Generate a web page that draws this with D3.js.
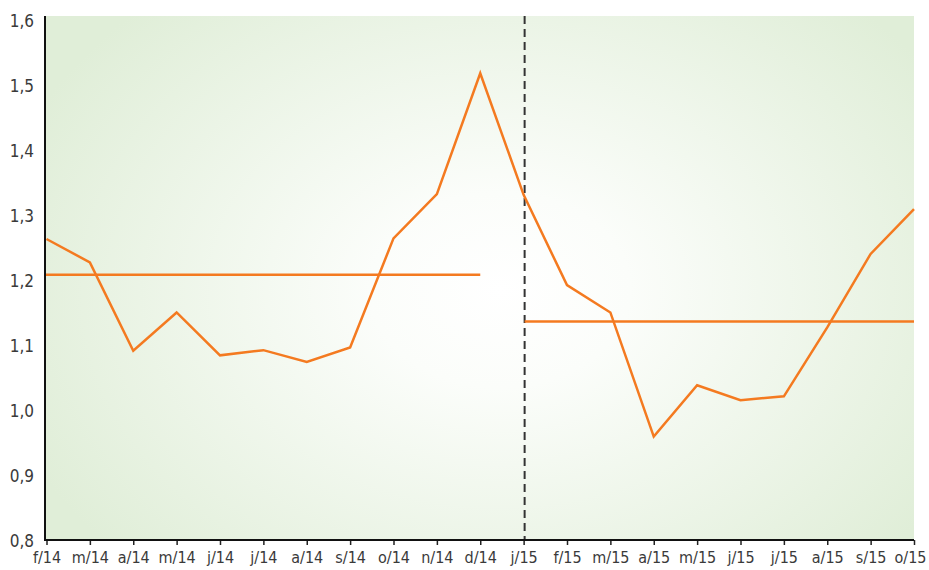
<!DOCTYPE html>
<html lang="en">
<head>
  <meta charset="UTF-8">
  <script src="https://cdn.jsdelivr.net/npm/d3@7"></script>
  <title>Chart</title>
  <style>
    body { margin: 0; background: #fff; }
    text { font-family: "Liberation Sans Narrow", "DejaVu Sans Condensed", "Roboto Condensed", sans-serif; }
  </style>
</head>
<body>
  <div class="chart"></div>
  <script>
    // month labels, feb 2014 to oct 2015
    const months = ['f/14', 'm/14', 'a/14', 'm/14', 'j/14', 'j/14', 'a/14', 's/14', 'o/14', 'n/14', 'd/14',
      'j/15', 'f/15', 'm/15', 'a/15', 'm/15', 'j/15', 'j/15', 'a/15', 's/15', 'o/15'];
    const values = [1.26, 1.224, 1.088, 1.147, 1.081, 1.089, 1.071, 1.093, 1.261, 1.329, 1.515,
      1.328, 1.189, 1.147, 0.956, 1.035, 1.012, 1.018, 1.124, 1.237, 1.306];
    const yTicks = [0.8, 0.9, 1.0, 1.1, 1.2, 1.3, 1.4, 1.5, 1.6];
    // average levels: [first index, last index, value]
    const averages = [[0, 10, 1.205], [11, 20, 1.133]];
    const splitIndex = 11;

    const width = 929, height = 570;
    const mLeft = 46.5, mRight = 914, mTop = 16, mBottom = 540;

    const svg = d3.select('.chart').append('svg').attr('width', width).attr('height', height);

    const x = d3.scalePoint().domain(d3.range(months.length)).range([mLeft, mRight]);
    const y = d3.scaleLinear().domain([0.8, 1.6]).range([538, 18]);

    const grad = svg.append('defs').append('radialGradient')
      .attr('id', 'bg').attr('gradientUnits', 'userSpaceOnUse')
      .attr('cx', 500).attr('cy', 290).attr('r', 520)
      .attr('gradientTransform', 'translate(500,290) scale(1,0.75) translate(-500,-290)');
    grad.append('stop').attr('offset', '0%').attr('stop-color', '#ffffff');
    grad.append('stop').attr('offset', '25%').attr('stop-color', '#fbfdfa');
    grad.append('stop').attr('offset', '100%').attr('stop-color', '#e0eed8');

    svg.append('rect').attr('x', 45).attr('y', mTop).attr('width', mRight - 45).attr('height', mBottom - mTop)
      .attr('fill', 'url(#bg)');

    // dashed split line
    svg.append('line')
      .attr('x1', x(splitIndex) + 1).attr('x2', x(splitIndex) + 1)
      .attr('y1', mTop).attr('y2', mBottom)
      .attr('stroke', '#333').attr('stroke-width', 2).attr('stroke-dasharray', '8,5');

    // average lines
    svg.selectAll('.avg').data(averages).enter().append('line')
      .attr('class', 'avg')
      .attr('x1', d => d[0] === 0 ? 45 : x(d[0]) + 1)
      .attr('x2', d => x(d[1]))
      .attr('y1', d => y(d[2])).attr('y2', d => y(d[2]))
      .attr('stroke', '#f47a20').attr('stroke-width', 2.5);

    const line = d3.line().x((d, i) => x(i)).y(d => y(d));
    svg.append('path').datum(values)
      .attr('d', line)
      .attr('fill', 'none')
      .attr('stroke', '#f47a20')
      .attr('stroke-width', 2.5)
      .attr('stroke-linejoin', 'miter');

    // axes
    const xAxis = svg.append('g').attr('transform', `translate(0,${mBottom})`)
      .call(d3.axisBottom(x).tickSize(5).tickPadding(7).tickFormat(i => months[i]));
    xAxis.select('.domain').remove();
    xAxis.selectAll('.tick line').attr('stroke', '#222').attr('stroke-width', 1.5);
    xAxis.selectAll('.tick text').attr('fill', '#3a3a3a').style('font-size', '16px');
    xAxis.selectAll('.tick text').filter(i => i === months.length - 1).attr('dx', -4);

    svg.append('line').attr('x1', 44).attr('x2', mRight).attr('y1', mBottom).attr('y2', mBottom)
      .attr('stroke', '#111').attr('stroke-width', 2);
    svg.append('line').attr('x1', 45).attr('x2', 45).attr('y1', mTop).attr('y2', mBottom + 1)
      .attr('stroke', '#111').attr('stroke-width', 2);

    const yAxis = svg.append('g').attr('transform', `translate(34,0)`)
      .call(d3.axisLeft(y).tickValues(yTicks).tickSize(0).tickPadding(0)
        .tickFormat(d => d3.format('.1f')(d).replace('.', ',')));
    yAxis.select('.domain').remove();
    yAxis.selectAll('.tick text').attr('fill', '#3a3a3a').style('font-size', '17px')
      .attr('dy', '0.5em');
  </script>
</body>
</html>
